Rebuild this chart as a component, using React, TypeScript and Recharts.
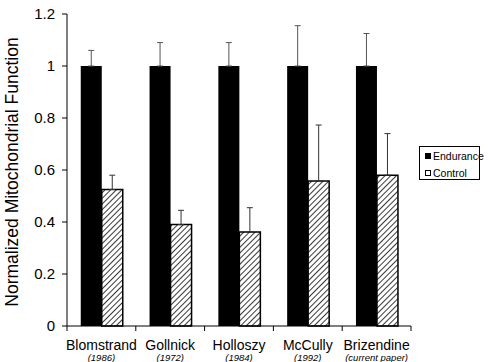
import { BarChart, Bar, XAxis, YAxis, ErrorBar } from "recharts";

const studies = ["Blomstrand", "Gollnick", "Holloszy", "McCully", "Brizendine"];
const years = ["(1986)", "(1972)", "(1984)", "(1992)", "(current paper)"];
const endurance = [1, 1, 1, 1, 1];
const enduranceErr = [0.06, 0.09, 0.09, 0.155, 0.125];
const control = [0.525, 0.39, 0.362, 0.558, 0.58];
const controlErr = [0.055, 0.055, 0.093, 0.215, 0.16];
const yTicks = [0, 0.2, 0.4, 0.6, 0.8, 1, 1.2];

const font = "'Liberation Sans', Arial, sans-serif";

const W = 489;
const H = 362;
const margin = { top: 14, right: 78, bottom: 0, left: 0 };
const yAxisWidth = 67;
const band = (W - margin.left - margin.right - yAxisWidth) / studies.length;

const data = studies.map((name, i) => ({
  name,
  endurance: endurance[i],
  enduranceErr: [0, enduranceErr[i]],
  control: control[i],
  controlErr: [0, controlErr[i]],
}));

function StudyTick(props: any) {
  const { x, y, payload, index } = props;
  const last = index === studies.length - 1;
  return (
    <g transform={`translate(${x},${y})`} fontFamily={font}>
      <line x1={-band / 2} x2={-band / 2} y1={0} y2={5} stroke="#000" />
      {last && <line x1={band / 2} x2={band / 2} y1={0} y2={5} stroke="#000" />}
      <text y={24} textAnchor="middle" fontSize={14} fill="#000">
        {payload.value}
      </text>
      <text y={35} textAnchor="middle" fontSize={9.5} fontStyle="italic" fill="#000">
        {years[index]}
      </text>
    </g>
  );
}

function LegendBox() {
  const row = { display: "flex", alignItems: "center", height: 17 } as const;
  return (
    <div
      style={{
        position: "absolute",
        left: 419,
        top: 146,
        width: 61,
        height: 34,
        border: "1px solid #000",
        boxSizing: "border-box",
        fontFamily: font,
        fontSize: 10.5,
        paddingLeft: 5,
      }}
    >
      <div style={row}>
        <span
          style={{ display: "inline-block", flexShrink: 0, width: 6, height: 6, background: "#000", marginRight: 2 }}
        />
        Endurance
      </div>
      <div style={row}>
        <span
          style={{
            display: "inline-block",
            flexShrink: 0,
            width: 6,
            height: 6,
            boxSizing: "border-box",
            background: "#fff",
            border: "1.5px solid #000",
            marginRight: 2,
          }}
        />
        Control
      </div>
    </div>
  );
}

export default function App() {
  return (
    <div style={{ position: "absolute", left: 0, top: 0, width: W, height: H, background: "#fff" }}>
      <BarChart
        width={W}
        height={H}
        data={data}
        margin={margin}
        barCategoryGap="20%"
        barGap={0}
      >
        <defs>
          <pattern
            id="hatch"
            patternUnits="userSpaceOnUse"
            width="4"
            height="4"
            patternTransform="rotate(45)"
          >
            <rect width="4" height="4" fill="#fff" />
            <line x1="0" y1="0" x2="0" y2="4" stroke="#222" strokeWidth="1.8" />
          </pattern>
        </defs>
        <XAxis
          dataKey="name"
          height={36}
          stroke="#000"
          tickLine={false}
          tickSize={0}
          tickMargin={0}
          interval={0}
          tick={<StudyTick />}
        />
        <YAxis
          width={yAxisWidth}
          domain={[0, 1.2]}
          ticks={yTicks}
          tickSize={5}
          tickMargin={7}
          stroke="#000"
          tick={{ fill: "#000", fontSize: 15, fontFamily: font }}
          label={{
            content: () => (
              <text
                x={18}
                y={172}
                transform="rotate(-90 18 172)"
                textAnchor="middle"
                fontSize={17.5}
                fontFamily={font}
                fill="#000"
              >
                Normalized Mitochondrial Function
              </text>
            ),
          }}
        />
        <Bar dataKey="endurance" fill="#000" isAnimationActive={false}>
          <ErrorBar dataKey="enduranceErr" width={3} stroke="#555" strokeWidth={1} />
        </Bar>
        <Bar
          dataKey="control"
          fill="url(#hatch)"
          stroke="#000"
          strokeWidth={1.5}
          isAnimationActive={false}
        >
          <ErrorBar dataKey="controlErr" width={3} stroke="#333" strokeWidth={1} />
        </Bar>
      </BarChart>
      <LegendBox />
    </div>
  );
}
